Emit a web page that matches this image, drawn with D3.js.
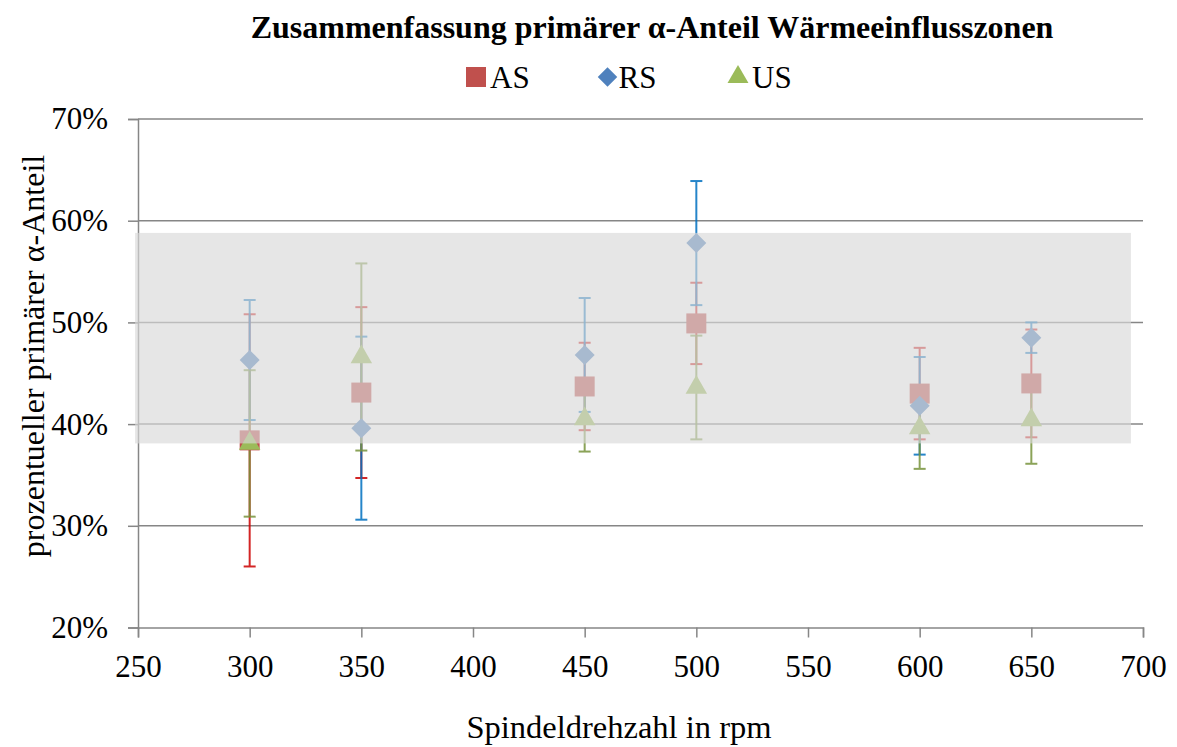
<!DOCTYPE html>
<html lang="en">
<head>
<meta charset="utf-8">
<style>
  body { margin: 0; background: #fff; }
  svg { display: block; font-family: "Liberation Serif", "Times New Roman", serif; }
</style>
</head>
<body>
<div id="chart"></div>
<script src="https://d3js.org/d3.v7.min.js"></script>
<script>
// spindle speeds (rpm)
var rpm = [300, 350, 450, 500, 600, 650];

// mean share + error (fraction) per zone
var asMean = [0.384, 0.431, 0.437, 0.499, 0.430, 0.440];
var asErr  = [0.124, 0.084, 0.043, 0.040, 0.045, 0.053];
var rsMean = [0.463, 0.396, 0.468, 0.578, 0.418, 0.485];
var rsErr  = [0.059, 0.090, 0.056, 0.061, 0.048, 0.015];
var usMean = [0.381, 0.466, 0.405, 0.436, 0.396, 0.404];
var usErr  = [0.072, 0.092, 0.032, 0.051, 0.040, 0.043];

// shaded range
var bandRpm = [248.7, 694.6];
var bandVal = [0.381, 0.588];

var xTicks = [250, 300, 350, 400, 450, 500, 550, 600, 650, 700];
var yTicks = [0.2, 0.3, 0.4, 0.5, 0.6, 0.7];

// diamond = square turned by 45 degrees
var diamond = {
  draw: function (ctx, size) {
    var r = Math.sqrt(size / 2);
    ctx.moveTo(0, -r); ctx.lineTo(r, 0); ctx.lineTo(0, r); ctx.lineTo(-r, 0); ctx.closePath();
  }
};

var series = [
  { name: "AS", mean: asMean, err: asErr, fill: "#C0504D", bar: "#CC0000", shape: d3.symbolSquare, size: 400 },
  { name: "RS", mean: rsMean, err: rsErr, fill: "#4F81BD", bar: "#0070C0", shape: diamond, size: 200 },
  { name: "US", mean: usMean, err: usErr, fill: "#9BBB59", bar: "#77933C", shape: d3.symbolTriangle, size: 200 }
];

var width = 1177, height = 747;
var svg = d3.select("#chart").append("svg")
  .attr("width", width).attr("height", height);

var x = d3.scaleLinear().domain([250, 700]).range([138, 1143]);
var y = d3.scaleLinear().domain([0.2, 0.7]).range([627.5, 119]);

var axisColor = "#868686";

// gridlines
svg.append("g").selectAll("line")
  .data(yTicks.slice(1))
  .join("line")
  .attr("x1", x(250)).attr("x2", x(700))
  .attr("y1", d => y(d)).attr("y2", d => y(d))
  .attr("stroke", axisColor).attr("stroke-width", 1.5);

// axes
var yAxis = d3.axisLeft(y).tickValues(yTicks).tickSize(10).tickPadding(20)
  .tickFormat(d3.format(".0%"));
var xAxis = d3.axisBottom(x).tickValues(xTicks).tickSize(10).tickPadding(16)
  .tickFormat(d3.format("d"));

var gy = svg.append("g").attr("transform", "translate(" + x(250) + ",0)").call(yAxis);
var gx = svg.append("g").attr("transform", "translate(0," + y(0.2) + ")").call(xAxis);
[gx, gy].forEach(function (g) {
  g.select(".domain").attr("stroke", axisColor).attr("stroke-width", 1.5);
  g.selectAll(".tick line").attr("stroke", axisColor).attr("stroke-width", 1.5);
  g.selectAll(".tick text").attr("fill", "#000")
    .style("font-size", "31px").style("font-family", "Liberation Serif");
});
gx.selectAll(".tick text").attr("dy", "0.75em");

// error bars
var capW = 12;
series.forEach(function (s) {
  var g = svg.append("g").attr("stroke", s.bar).attr("stroke-width", 2).attr("opacity", 0.85);
  rpm.forEach(function (r, i) {
    var lo = y(s.mean[i] - s.err[i]), hi = y(s.mean[i] + s.err[i]), cx = x(r);
    g.append("line").attr("x1", cx).attr("x2", cx).attr("y1", lo).attr("y2", hi);
    g.append("line").attr("x1", cx - capW / 2).attr("x2", cx + capW / 2).attr("y1", lo).attr("y2", lo);
    g.append("line").attr("x1", cx - capW / 2).attr("x2", cx + capW / 2).attr("y1", hi).attr("y2", hi);
  });
});

// markers
series.forEach(function (s) {
  svg.append("g").selectAll("path")
    .data(rpm.map((r, i) => [r, s.mean[i]]))
    .join("path")
    .attr("d", d3.symbol().type(s.shape).size(s.size))
    .attr("transform", d => "translate(" + x(d[0]) + "," + y(d[1]) + ")")
    .attr("fill", s.fill);
});

// translucent band over everything
svg.append("rect")
  .attr("x", x(bandRpm[0])).attr("width", x(bandRpm[1]) - x(bandRpm[0]))
  .attr("y", y(bandVal[1])).attr("height", y(bandVal[0]) - y(bandVal[1]))
  .attr("fill", "rgb(217,217,217)").attr("opacity", 0.65);

// title
svg.append("text")
  .attr("x", 652).attr("y", 38)
  .attr("text-anchor", "middle")
  .style("font-size", "32px").style("font-weight", "bold")
  .text("Zusammenfassung primärer α-Anteil Wärmeeinflusszonen");

// legend
var legX = [476, 607.5, 738];
var legDx = [14, 11, 14];
series.forEach(function (s, i) {
  var lg = svg.append("g").attr("transform", "translate(" + legX[i] + ",77)");
  lg.append("path")
    .attr("d", d3.symbol().type(s.shape).size(s.name === "AS" ? 400 : 190))
    .attr("fill", s.fill);
  lg.append("text").attr("x", legDx[i]).attr("y", 11)
    .style("font-size", "31px").text(s.name);
});

// axis titles
svg.append("text")
  .attr("x", 619).attr("y", 738)
  .attr("text-anchor", "middle")
  .style("font-size", "32.5px")
  .text("Spindeldrehzahl in rpm");

svg.append("text")
  .attr("transform", "translate(44,356) rotate(-90)")
  .attr("text-anchor", "middle")
  .style("font-size", "32px")
  .text("prozentueller primärer α-Anteil");
</script>
</body>
</html>
